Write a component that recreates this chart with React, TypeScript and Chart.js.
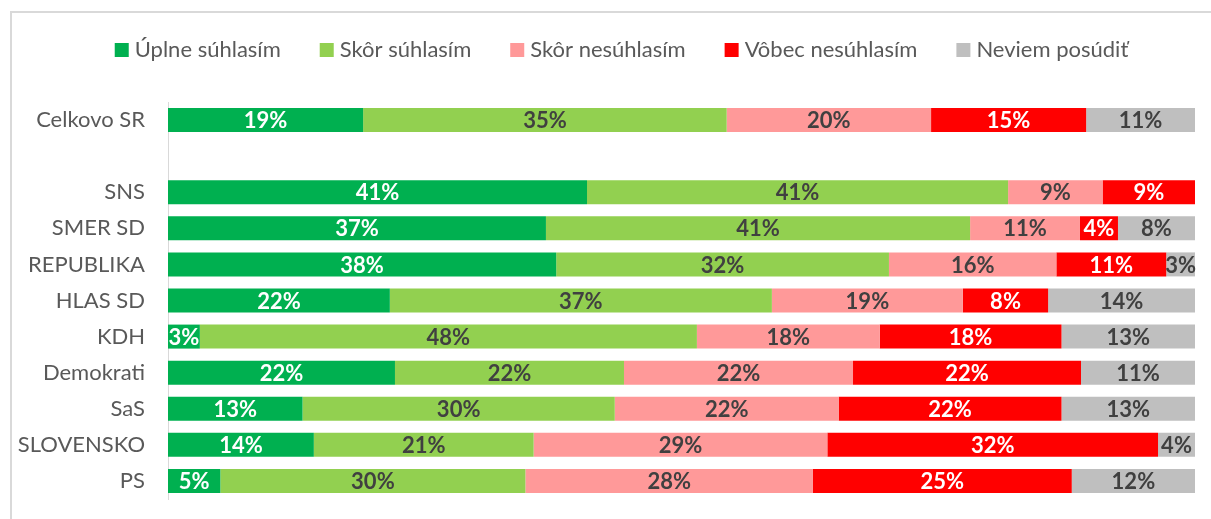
import React, { useEffect, useRef } from "react";
import { Chart, registerables } from "chart.js";

Chart.register(...registerables);

const categories = ["Celkovo SR", "", "SNS", "SMER SD", "REPUBLIKA", "HLAS SD", "KDH", "Demokrati", "SaS", "SLOVENSKO", "PS"];
const seriesNames = ["Úplne súhlasím", "Skôr súhlasím", "Skôr nesúhlasím", "Vôbec nesúhlasím", "Neviem posúdiť"];
const uplneSuhlasim = [19.0, null, 40.8, 36.8, 37.8, 21.6, 3.1, 22.1, 13.1, 14.2, 5.1];
const skorSuhlasim = [35.4, null, 41.0, 41.3, 32.4, 37.2, 48.4, 22.3, 30.4, 21.4, 29.7];
const skorNesuhlasim = [19.9, null, 9.2, 10.7, 16.3, 18.6, 17.8, 22.3, 21.8, 28.6, 28.0];
const vobecNesuhlasim = [15.1, null, 9.0, 3.7, 10.7, 8.3, 17.7, 22.2, 21.7, 32.2, 25.2];
const neviemPosudit = [10.6, null, 0, 7.5, 2.8, 14.3, 13.0, 11.1, 13.0, 3.6, 12.0];

const seriesColors = ["#00B050", "#92D050", "#FF9999", "#FF0000", "#BFBFBF"];
const labelColors = ["#FFFFFF", "#404040", "#404040", "#FFFFFF", "#404040"];

const FONT = "Lato, 'Open Sans', sans-serif";
const TEXT_GRAY = "#595959";

const valueLabels = {
  id: "valueLabels",
  afterDatasetsDraw(chart: any) {
    const ctx = chart.ctx;
    ctx.save();
    ctx.font = `bold 22px ${FONT}`;
    ctx.textAlign = "center";
    ctx.textBaseline = "middle";
    chart.data.datasets.forEach((ds: any, di: number) => {
      const meta = chart.getDatasetMeta(di);
      meta.data.forEach((el: any, i: number) => {
        const v = ds.data[i];
        if (v == null || v === 0) return;
        const p = el.getProps(["x", "base", "y"], true);
        ctx.fillStyle = labelColors[di];
        ctx.fillText(Math.round(v) + "%", (p.x + p.base) / 2, p.y + 1);
      });
    });
    ctx.restore();
  },
};

const topLegend = {
  id: "topLegend",
  afterDraw(chart: any) {
    const ctx = chart.ctx;
    ctx.save();
    ctx.font = `22px ${FONT}`;
    ctx.textBaseline = "middle";
    ctx.textAlign = "left";
    const box = 14;
    const boxGap = 6;
    const itemGap = 39;
    const widths = seriesNames.map((n) => ctx.measureText(n).width);
    const total = widths.reduce((a, b) => a + b, 0) + seriesNames.length * (box + boxGap) + (seriesNames.length - 1) * itemGap;
    let x = chart.width / 2 + 10 - total / 2;
    const cy = 37;
    seriesNames.forEach((n, i) => {
      ctx.fillStyle = seriesColors[i];
      ctx.fillRect(x, cy - box / 2, box, box);
      x += box + boxGap;
      ctx.fillStyle = TEXT_GRAY;
      ctx.fillText(n, x, cy);
      x += widths[i] + itemGap;
    });
    ctx.restore();
  },
};

export default function App() {
  const ref = useRef<HTMLCanvasElement>(null);
  useEffect(() => {
    if (!ref.current) return;
    const seriesData = [uplneSuhlasim, skorSuhlasim, skorNesuhlasim, vobecNesuhlasim, neviemPosudit];
    const chart = new Chart(ref.current, {
      type: "bar",
      data: {
        labels: categories,
        datasets: seriesNames.map((name, i) => ({
          label: name,
          data: seriesData[i],
          backgroundColor: seriesColors[i],
          borderWidth: 0,
          categoryPercentage: 1,
          barPercentage: 0.665,
        })),
      },
      options: {
        indexAxis: "y",
        responsive: false,
        maintainAspectRatio: false,
        animation: false,
        devicePixelRatio: 1,
        layout: { padding: { top: 89, right: 16, bottom: 20, left: 0 } },
        plugins: {
          legend: { display: false },
          tooltip: { enabled: false },
          title: { display: false },
        },
        scales: {
          x: {
            stacked: true,
            min: 0,
            max: 100,
            display: false,
          },
          y: {
            stacked: true,
            grid: { display: false, drawTicks: false },
            border: { display: true, color: "#D9D9D9", width: 1 },
            ticks: {
              color: TEXT_GRAY,
              padding: 23,
              font: { family: FONT, size: 22 },
            },
            afterFit: (s: any) => {
              s.width = 156;
              s.paddingTop = 0;
              s.paddingBottom = 0;
            },
          },
        },
      } as any,
      plugins: [valueLabels, topLegend],
    });
    return () => chart.destroy();
  }, []);

  return (
    <div
      style={{
        position: "absolute",
        left: 10,
        top: 11,
        width: 1199,
        height: 506,
        borderLeft: "2px solid #D9D9D9",
        borderTop: "2px solid #D9D9D9",
        background: "#FFFFFF",
      }}
    >
      <canvas ref={ref} width={1199} height={506} style={{ display: "block" }} />
    </div>
  );
}
